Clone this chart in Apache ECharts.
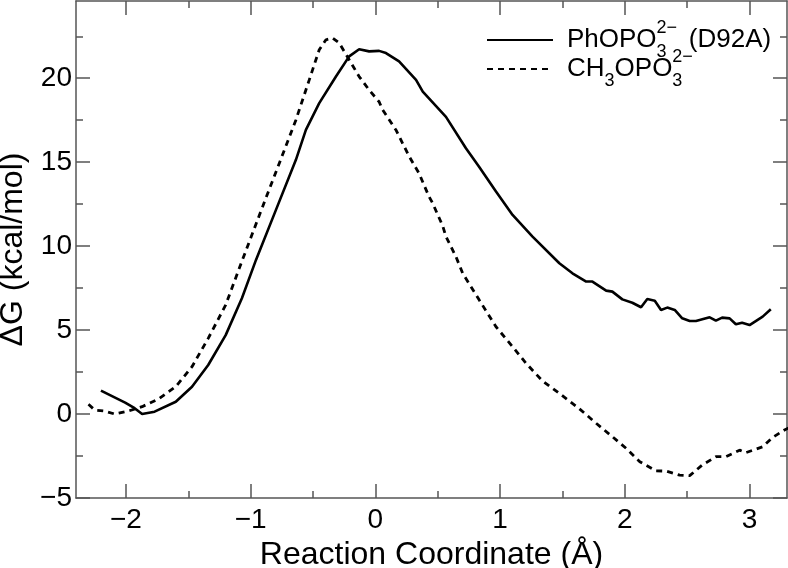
<!DOCTYPE html>
<html><head><meta charset="utf-8">
<script src="https://cdn.jsdelivr.net/npm/echarts@6/dist/echarts.min.js"></script>
<style>html,body{margin:0;padding:0;background:#fff}#c{width:788px;height:568px}</style>
</head><body><div id="c"></div>
<script>
// PhOPO3^2- (D92A) — solid
const solidX = [-2.20,-2.006,-1.93,-1.87,-1.77,-1.60,-1.47,-1.34,-1.20,-1.07,-0.957,-0.797,-0.637,-0.557,-0.45,-0.316,-0.21,-0.13,-0.05,0.03,0.085,0.19,0.326,0.38,0.566,0.726,0.83,0.967,1.10,1.26,1.475,1.58,1.69,1.74,1.85,1.90,1.98,2.06,2.13,2.18,2.24,2.29,2.34,2.40,2.46,2.52,2.57,2.68,2.73,2.78,2.84,2.89,2.94,3.00,3.105,3.17];
const solidY = [1.39,0.68,0.35,0.0,0.14,0.73,1.63,2.92,4.70,6.90,9.18,12.16,15.14,16.92,18.52,20.1,21.3,21.73,21.6,21.63,21.5,21.0,19.9,19.2,17.7,15.83,14.74,13.25,11.86,10.57,8.98,8.38,7.89,7.89,7.35,7.29,6.83,6.63,6.36,6.85,6.75,6.20,6.34,6.20,5.70,5.54,5.54,5.76,5.56,5.74,5.70,5.35,5.44,5.30,5.80,6.24];
// CH3OPO3^2- — dashed
const dashX = [-2.30,-2.25,-2.17,-2.09,-1.98,-1.87,-1.74,-1.60,-1.47,-1.34,-1.20,-1.07,-0.904,-0.77,-0.637,-0.53,-0.45,-0.396,-0.343,-0.29,-0.21,-0.13,-0.05,0.03,0.058,0.165,0.272,0.35,0.43,0.459,0.54,0.566,0.646,0.70,0.833,0.967,1.10,1.208,1.34,1.475,1.63,1.77,1.90,2.01,2.12,2.25,2.33,2.44,2.52,2.62,2.73,2.81,2.92,2.97,3.105,3.185,3.28,3.32];
const dashY = [0.58,0.24,0.18,0.0,0.18,0.44,0.89,1.63,2.82,4.51,6.5,9.1,12.35,14.94,17.52,19.9,21.7,22.29,22.39,22.1,21.1,20.1,19.3,18.6,18.12,16.92,15.33,14.34,12.95,12.56,11.2,10.57,9.37,8.38,6.79,5.2,4.01,3.02,1.97,1.23,0.35,-0.55,-1.35,-2.04,-2.84,-3.38,-3.40,-3.64,-3.67,-3.04,-2.54,-2.54,-2.15,-2.3,-1.95,-1.39,-0.95,-0.80];

const xMajorTicks = [-2,-1,0,1,2,3];
const xMinorTicks = [-1.5,-0.5,0.5,1.5,2.5];
const yMajorTicks = [-5,0,5,10,15,20];
const yMinorTicks = [-2.5,2.5,7.5,12.5,17.5,22.5];

const FONT = '"Liberation Sans", Arial, sans-serif';
const AX = '#555';
const XMIN = -2.4, XMAX = 3.3, YMIN = -5, YMAX = 24.6;
const fmt = v => (v < 0 ? '\u2212' + Math.abs(v) : String(v));

function xAx(grid, pos, ticks, len, showLine, labels, name) {
  return {
    type: 'value', gridIndex: grid, position: pos, min: XMIN, max: XMAX,
    axisLine: { show: showLine, onZero: false, lineStyle: { color: AX, width: 1.5 } },
    axisTick: { show: true, inside: true, length: len, customValues: ticks, lineStyle: { color: AX, width: 1.5 } },
    axisLabel: { show: labels, customValues: ticks, formatter: fmt, fontFamily: FONT, fontSize: 28, color: '#000', margin: 8 },
    splitLine: { show: false },
    name: name || '', nameLocation: 'middle', nameGap: 28,
    nameTextStyle: { fontFamily: FONT, fontSize: 32, color: '#000' }
  };
}
function yAx(grid, pos, ticks, len, showLine, labels, name) {
  return {
    type: 'value', gridIndex: grid, position: pos, min: YMIN, max: YMAX,
    axisLine: { show: showLine, onZero: false, lineStyle: { color: AX, width: 1.5 } },
    axisTick: { show: true, inside: true, length: len, customValues: ticks, lineStyle: { color: AX, width: 1.5 } },
    axisLabel: { show: labels, customValues: ticks, formatter: fmt, fontFamily: FONT, fontSize: 28, color: '#000', margin: 4 },
    splitLine: { show: false },
    name: name || '', nameLocation: 'middle', nameGap: 37,
    nameTextStyle: { fontFamily: FONT, fontSize: 32, color: '#000' }
  };
}

const gridBox = { left: 76, right: 1, top: 1, bottom: 70, containLabel: false, outerBoundsMode: 'none' };
const rich = {
  sb: { fontFamily: FONT, fontSize: 18, lineHeight: 16, verticalAlign: 'bottom', color: '#000' },
  sbz: { fontFamily: FONT, fontSize: 18, lineHeight: 16, verticalAlign: 'bottom', width: 0, color: '#000' },
  sp: { fontFamily: FONT, fontSize: 18, lineHeight: 28, verticalAlign: 'top', color: '#000', width: 25 }
};
const legendText = {
  'PhOPO3 (D92A)': 'PhOPO{sbz|3}{sp|2\u2212} (D92A)',
  'CH3OPO3': 'CH{sb|3}OPO{sbz|3}{sp|2\u2212}'
};
function leg(name, top) {
  return {
    data: [name], left: 486, top: top, padding: 0, itemWidth: 66, itemHeight: 14, itemGap: 0,
    formatter: n => legendText[n],
    itemStyle: { opacity: 0, color: 'rgba(0,0,0,0)', borderWidth: 0 },
    textStyle: { fontFamily: FONT, fontSize: 26, color: '#000', lineHeight: 42, rich: rich, padding: [0, 0, 0, 9] }
  };
}

const option = {
  animation: false,
  backgroundColor: '#fff',
  grid: [Object.assign({}, gridBox), Object.assign({}, gridBox)],
  xAxis: [
    xAx(0, 'bottom', xMajorTicks, 14, true, true, 'Reaction Coordinate (\u00C5)'),
    xAx(0, 'top', xMajorTicks, 14, true, false),
    xAx(1, 'bottom', xMinorTicks, 7, false, false),
    xAx(1, 'top', xMinorTicks, 7, false, false)
  ],
  yAxis: [
    yAx(0, 'left', yMajorTicks, 14, true, true, '\u0394G (kcal/mol)'),
    yAx(0, 'right', yMajorTicks, 14, true, false),
    yAx(1, 'left', yMinorTicks, 7, false, false),
    yAx(1, 'right', yMinorTicks, 7, false, false)
  ],
  legend: [leg('PhOPO3 (D92A)', 19), leg('CH3OPO3', 48)],
  series: [
    {
      name: 'PhOPO3 (D92A)', type: 'line', xAxisIndex: 0, yAxisIndex: 0,
      data: solidX.map((x, i) => [x, solidY[i]]),
      symbol: 'none', showSymbol: false, clip: true,
      lineStyle: { color: '#000', width: 2.6, type: 'solid' }, itemStyle: { color: '#000' }
    },
    {
      name: 'CH3OPO3', type: 'line', xAxisIndex: 0, yAxisIndex: 0,
      data: dashX.map((x, i) => [x, dashY[i]]),
      symbol: 'none', showSymbol: false, clip: true,
      lineStyle: { color: '#000', width: 2.8, type: [6, 5] }, itemStyle: { color: '#000' }
    }
  ]
};
const chart = echarts.init(document.getElementById('c'), null, { renderer: 'canvas' });
chart.setOption(option);
</script>
</body></html>
